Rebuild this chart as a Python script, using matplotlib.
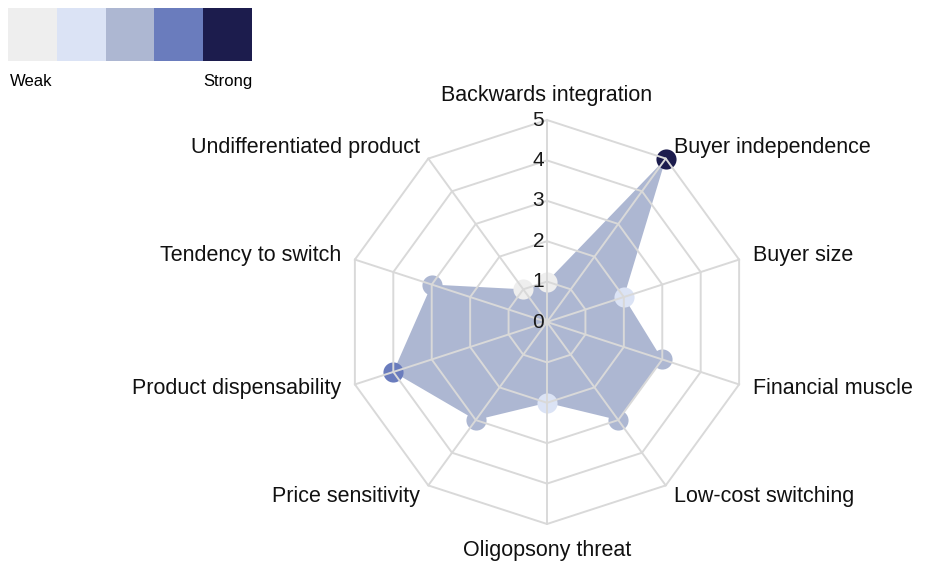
import numpy as np
import matplotlib
matplotlib.use("Agg")
import matplotlib.pyplot as plt
from matplotlib.transforms import offset_copy

plt.rcParams['font.family'] = ['Liberation Sans', 'DejaVu Sans']

categories = ['Backwards integration', 'Buyer independence', 'Buyer size',
              'Financial muscle', 'Low-cost switching', 'Oligopsony threat',
              'Price sensitivity', 'Product dispensability', 'Tendency to switch',
              'Undifferentiated product']
values = [1, 5, 2, 3, 3, 2, 3, 4, 3, 1]
scale_colors = ['#eeeeee', '#dbe3f5', '#adb7d2', '#6a7cbd', '#1c1c4d']
legend_labels = ['Weak', 'Strong']
rings = [1, 2, 3, 4, 5]

n = len(categories)
angles = np.linspace(0, 2 * np.pi, n, endpoint=False)
grid_color = '#d9d9d9'

fig = plt.figure(figsize=(9.25, 5.64), dpi=100)

cx, cy, rad = 547 / 925, 1 - 322 / 564, 202
ax = fig.add_axes([cx - rad / 925, cy - rad / 564, 2 * rad / 925, 2 * rad / 564],
                  projection='polar')
ax.set_theta_zero_location('N')
ax.set_theta_direction(-1)
ax.set_ylim(0, 5)
ax.grid(False)
ax.spines['polar'].set_visible(False)
ax.set_xticks([])
ax.set_yticks([])
ax.patch.set_alpha(0)

# data polygon
closed_a = np.append(angles, angles[0])
closed_v = np.append(values, values[0])
ax.fill(closed_a, closed_v, color='#adb7d2', zorder=1, lw=0)

# markers coloured by strength
for a, v in zip(angles, values):
    ax.plot([a], [v], 'o', ms=14.5, mec='none', color=scale_colors[v - 1],
            zorder=2, clip_on=False)

# polygon grid on top
for r in rings:
    ax.plot(closed_a, [r] * (n + 1), color=grid_color, lw=1.4, zorder=3, clip_on=False)
for a in angles:
    ax.plot([a, a], [0, 5], color=grid_color, lw=1.4, zorder=3, clip_on=False)

# radial tick labels
tr = offset_copy(ax.transData, fig=fig, x=-3, y=0, units='dots')
for r in [0] + rings:
    ax.text(0, r, str(r), transform=tr, ha='right', va='center',
            fontsize=15, color='#1a1a1a', zorder=4)

# category labels
fs = 15.5
for a, lab in zip(angles, categories):
    deg = np.degrees(a)
    if np.isclose(deg, 0):
        ax.text(a, 5.6, lab, ha='center', va='center', fontsize=fs, color='#111111')
    elif np.isclose(deg, 180):
        ax.text(a, 5.65, lab, ha='center', va='center', fontsize=fs, color='#111111')
    elif deg < 180:
        ax.text(a, 5.35, lab, ha='left', va='center', fontsize=fs, color='#111111')
    else:
        ax.text(a, 5.35, lab, ha='right', va='center', fontsize=fs, color='#111111')

# strength legend
lax = fig.add_axes([8 / 925, 1 - 61 / 564, 244 / 925, 53 / 564])
lax.bar(range(len(scale_colors)), [1] * len(scale_colors), width=1.0,
        color=scale_colors)
lax.set_xlim(-0.5, len(scale_colors) - 0.5)
lax.set_ylim(0, 1)
lax.axis('off')
fig.text(10 / 925, 1 - 82 / 564, legend_labels[0], ha='left', va='center', fontsize=12)
fig.text(253 / 925, 1 - 82 / 564, legend_labels[1], ha='right', va='center', fontsize=12)

fig.savefig('out.png', dpi=100)
